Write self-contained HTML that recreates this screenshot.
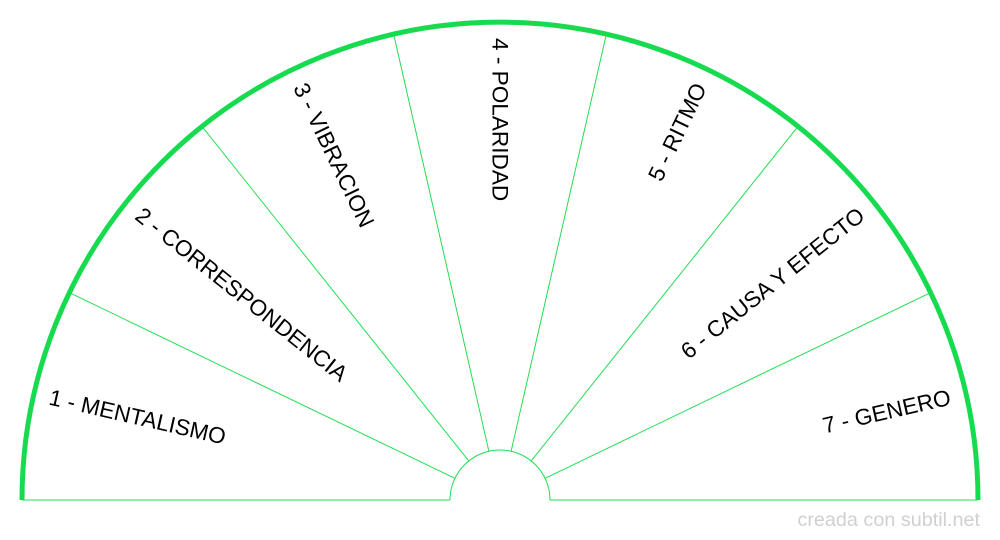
<!DOCTYPE html>
<html><head><meta charset="utf-8"><style>
html,body{margin:0;padding:0;background:#fff;width:1000px;height:540px;overflow:hidden}
</style></head><body>
<svg width="1000" height="540" xmlns="http://www.w3.org/2000/svg">
<g stroke="#22dd55" stroke-width="1" fill="none">
<line x1="22" y1="500" x2="450" y2="500"/>
<line x1="550" y1="500" x2="978" y2="500"/>
<path d="M450 500 A50 50 0 0 1 550 500"/>
<line x1="454.9" y1="478.3" x2="69.3" y2="292.6"/>
<line x1="468.8" y1="460.9" x2="201.9" y2="126.3"/>
<line x1="488.9" y1="451.3" x2="393.6" y2="34.0"/>
<line x1="511.1" y1="451.3" x2="606.4" y2="34.0"/>
<line x1="531.2" y1="460.9" x2="798.1" y2="126.3"/>
<line x1="545.1" y1="478.3" x2="930.7" y2="292.6"/>
</g>
<path d="M22 500 A478 478 0 0 1 978 500" stroke="#17db4f" stroke-width="5" fill="none"/>
<g font-family="Liberation Sans, sans-serif" font-size="22.6" fill="#000" dominant-baseline="central">
<text transform="translate(49.6,397.1) rotate(12.86)">1 - MENTALISMO</text>
<text transform="translate(138.4,212.4) rotate(38.57)">2 - CORRESPONDENCIA</text>
<text transform="translate(299.6,84.5) rotate(64.29)">3 - VIBRACION</text>
<text transform="translate(500,38) rotate(90)">4 - POLARIDAD</text>
<text text-anchor="end" transform="translate(700.4,84.5) rotate(-64.29)">5 - RITMO</text>
<text text-anchor="end" transform="translate(861.6,212.4) rotate(-38.57)">6 - CAUSA Y EFECTO</text>
<text text-anchor="end" transform="translate(950.4,397.1) rotate(-12.86)">7 - GENERO</text>
</g>
<text x="980" y="526" text-anchor="end" font-family="Liberation Sans, sans-serif" font-size="19.8" fill="#d0d0d0">creada con subtil.net</text>
</svg>
</body></html>
